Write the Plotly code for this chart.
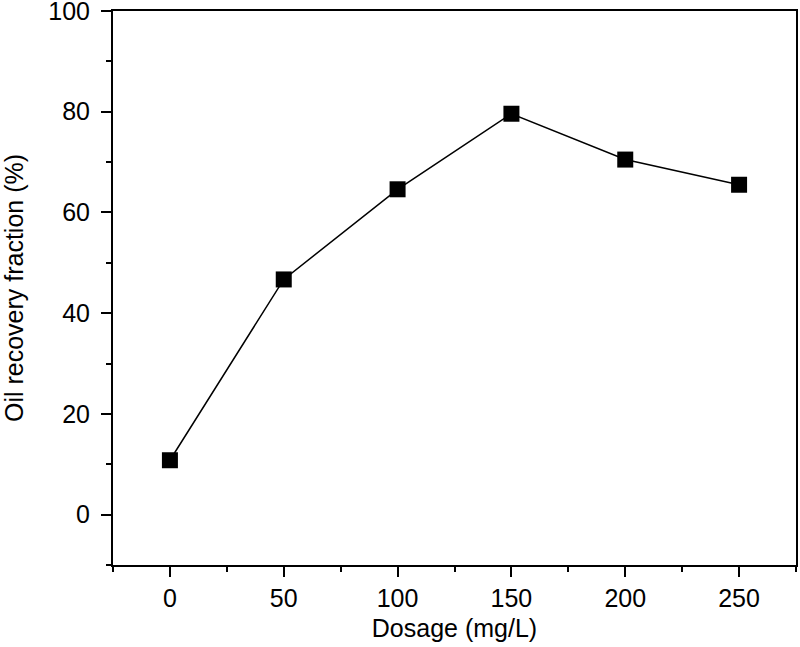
import plotly.graph_objects as go

dosage = [0, 50, 100, 150, 200, 250]
recovery = [10.8, 46.7, 64.6, 79.6, 70.5, 65.5]

fig = go.Figure()
fig.add_trace(
    go.Scatter(
        x=dosage,
        y=recovery,
        mode="lines+markers",
        line=dict(color="black", width=1.5),
        marker=dict(symbol="square", size=16, color="black"),
        showlegend=False,
    )
)

font = dict(family="Liberation Sans, Arial", size=25, color="black")

axis_style = dict(
    showgrid=False,
    zeroline=False,
    showline=True,
    linecolor="black",
    linewidth=2,
    mirror=True,
    ticks="outside",
    ticklen=10,
    tickwidth=2,
    tickcolor="black",
    tickfont=font,
    automargin=False,
    ticklabeloverflow="allow",
)

fig.update_xaxes(
    range=[-25, 275],
    tickmode="array",
    tickvals=dosage,
    minor=dict(ticks="outside", ticklen=5, tickwidth=2, tickcolor="black",
               tickvals=[-25, 25, 75, 125, 175, 225, 275]),
    title=dict(text="Dosage (mg/L)", font=font, standoff=8),
    ticklabelstandoff=0,
    **axis_style,
)
fig.update_yaxes(
    range=[-10, 100],
    tickmode="array",
    tickvals=[0, 20, 40, 60, 80, 100],
    minor=dict(ticks="outside", ticklen=5, tickwidth=2, tickcolor="black",
               tickvals=[-10, 10, 30, 50, 70, 90]),
    title=dict(text="Oil recovery fraction (%)", font=font, standoff=30),
    ticklabelstandoff=6,
    **axis_style,
)

fig.update_layout(
    width=800,
    height=647,
    margin=dict(l=113, r=4, t=11, b=82),
    plot_bgcolor="white",
    paper_bgcolor="white",
)

# drop the page's default body margin so the figure sits at the window's corner
fig.write_html(
    "out.html",
    config={"displayModeBar": False},
    post_script="document.body.style.margin='0';",
)
